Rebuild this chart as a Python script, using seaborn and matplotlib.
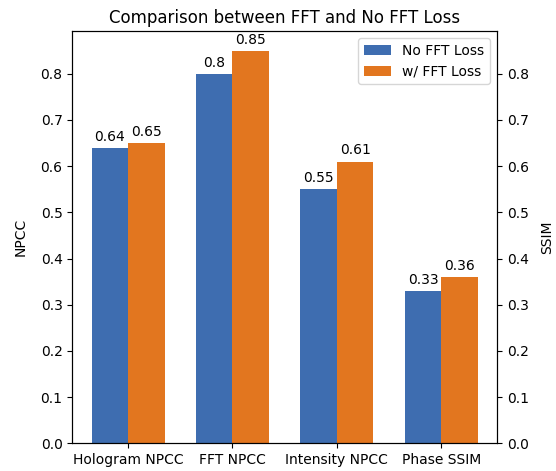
import matplotlib
matplotlib.use("Agg")
import matplotlib.pyplot as plt
import seaborn as sns
import pandas as pd

categories = ["Hologram NPCC", "FFT NPCC", "Intensity NPCC", "Phase SSIM"]
no_fft = [0.64, 0.80, 0.55, 0.33]
with_fft = [0.65, 0.85, 0.61, 0.36]
series_names = ["No FFT Loss", "w/ FFT Loss"]
colors = ["#3e6db0", "#e2761f"]

df = pd.DataFrame({
    "metric": categories * 2,
    "value": no_fft + with_fft,
    "loss": [series_names[0]] * 4 + [series_names[1]] * 4,
})

plt.rcParams["font.family"] = ["DejaVu Sans"]
plt.rcParams["font.size"] = 10

fig, ax = plt.subplots(figsize=(5.56, 4.71), dpi=100)
sns.barplot(data=df, x="metric", y="value", hue="loss", palette=colors,
            width=0.7, saturation=1, ax=ax, errorbar=None)

for cont in ax.containers:
    ax.bar_label(cont, fmt="%g", padding=3, fontsize=10)

ymax = 0.85 * 1.05
ax.set_ylim(0, ymax)
ax.set_xlim(-0.535, 3.535)
ax.set_xlabel("")
ax.set_ylabel("NPCC", labelpad=9)
ax.set_title("Comparison between FFT and No FFT Loss", fontsize=12)
ax.legend(loc="upper right", fontsize=10)

ax2 = ax.twinx()
ax2.set_ylim(0, ymax)
ax2.set_ylabel("SSIM", labelpad=8)

fig.subplots_adjust(left=0.130, right=0.894, top=0.934, bottom=0.059)
fig.savefig("out.png", dpi=100)
